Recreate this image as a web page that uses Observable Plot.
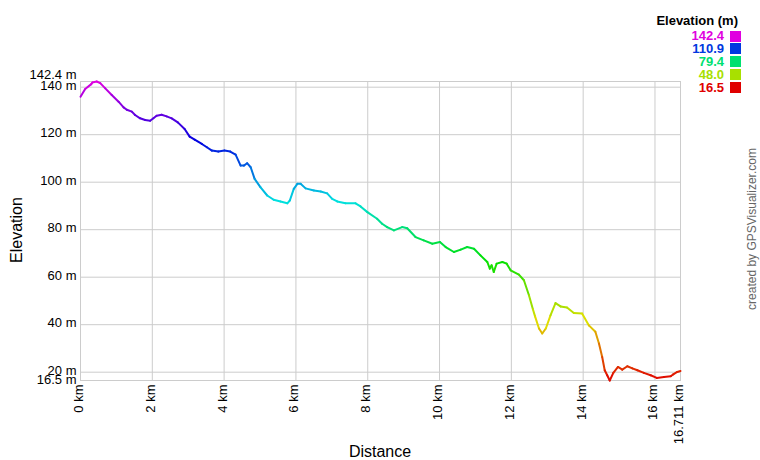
<!DOCTYPE html>
<html>
<head>
<meta charset="utf-8">
<script src="https://cdn.jsdelivr.net/npm/d3@7"></script>
<script src="https://cdn.jsdelivr.net/npm/@observablehq/plot@0.6"></script>
<style>
  body { margin: 0; background: #fff; }
  #wrap { position: relative; width: 760px; height: 460px; font-family: "Liberation Sans", Arial, sans-serif; }
  #wrap svg { position: absolute; left: 0; top: 0; }
  .abs { position: absolute; white-space: nowrap; }
</style>
</head>
<body>
<div id="wrap"></div>
<script>
// Distance along track (km)
const km = [0, 0.13, 0.30, 0.33, 0.45, 0.55, 0.69, 0.87, 1.06, 1.20, 1.29, 1.43, 1.52, 1.66, 1.80, 1.94,
  2.03, 2.12, 2.26, 2.40, 2.54, 2.71, 2.90, 3.04, 3.18, 3.38, 3.52, 3.66, 3.84, 4.01, 4.17, 4.32,
  4.46, 4.55, 4.64, 4.74, 4.85, 5.01, 5.20, 5.38, 5.57, 5.76, 5.83, 5.94, 6.04, 6.13, 6.27, 6.50,
  6.69, 6.87, 7.01, 7.15, 7.38, 7.66, 7.80, 7.99, 8.26, 8.40, 8.54, 8.73, 8.96, 9.10, 9.33, 9.56,
  9.80, 10.01, 10.17, 10.40, 10.59, 10.77, 10.96, 11.14, 11.33, 11.40, 11.45, 11.51, 11.59, 11.75,
  11.87, 11.98, 12.21, 12.35, 12.49, 12.60, 12.66, 12.77, 12.86, 12.96, 13.09, 13.23, 13.37, 13.55,
  13.74, 13.97, 14.16, 14.34, 14.44, 14.53, 14.60, 14.67, 14.74, 14.84, 14.97, 15.09, 15.23, 15.37,
  15.51, 15.69, 15.88, 16.05, 16.25, 16.44, 16.51, 16.62, 16.711];
// Elevation (m)
const elev = [136.0, 139.2, 141.3, 142.0, 142.4, 141.7, 139.5, 136.7, 133.9, 131.5, 130.5, 129.7, 128.3, 126.9, 126.2, 125.9,
  126.9, 128.0, 128.4, 127.7, 126.9, 125.2, 122.4, 119.2, 117.9, 116.1, 114.7, 113.3, 112.9, 113.3, 112.9, 111.6,
  107.0, 107.0, 108.0, 106.3, 101.4, 97.9, 94.4, 92.6, 91.9, 91.1, 92.3, 97.2, 99.3, 99.3, 97.4, 96.5,
  96.1, 95.3, 93.0, 91.9, 91.1, 91.1, 89.8, 87.4, 84.6, 82.5, 81.1, 79.7, 81.1, 80.6, 76.9, 75.5,
  74.1, 74.8, 72.7, 70.6, 71.6, 72.7, 72.0, 69.2, 66.4, 63.6, 65.0, 62.2, 65.7, 66.4,
  65.7, 62.9, 61.1, 58.7, 52.4, 46.5, 43.5, 38.4, 36.3, 38.4, 43.9, 49.1, 47.7, 47.2,
  44.9, 44.7, 39.7, 37.0, 32.1, 26.4, 20.8, 18.7, 16.5, 19.7, 22.2, 21.1, 22.5, 21.6,
  20.8, 19.7, 18.7, 17.6, 18.0, 18.3, 19.1, 20.1, 20.5];

const yTicks = [20, 40, 60, 80, 100, 120, 140];
const yExtremes = [16.5, 142.4];
const xTicks = [0, 2, 4, 6, 8, 10, 12, 14, 16, 16.711];
const legendValues = [142.4, 110.9, 79.4, 48.0, 16.5];

const eMin = 16.5, eMax = 142.4;
const hueColor = t => d3.hsl(300 * t, 1, 0.44).formatHex();
const colorOf = e => hueColor((e - eMin) / (eMax - eMin));

const pts = d3.zip(km, elev);
const segs = d3.pairs(pts).map(([a, b]) => ({x1: a[0], y1: a[1], x2: b[0], y2: b[1], e: (a[1] + b[1]) / 2}));

const font = "Liberation Sans, Arial, sans-serif";
const chart = Plot.plot({
  width: 760,
  height: 460,
  marginLeft: 80,
  marginRight: 80,
  marginTop: 81,
  marginBottom: 80,
  style: {fontFamily: font, fontSize: "13px", color: "#000", background: "#fff"},
  x: {domain: [0, 16.711], axis: null},
  y: {domain: [eMin, eMax], axis: null},
  color: {type: "linear", domain: [eMin, eMax], interpolate: hueColor},
  marks: [
    Plot.gridX(xTicks, {stroke: "#ccc", strokeOpacity: 1}),
    Plot.gridY(yTicks, {stroke: "#ccc", strokeOpacity: 1}),
    Plot.frame({stroke: "#ccc"}),
    Plot.link(segs, {x1: "x1", y1: "y1", x2: "x2", y2: "y2", stroke: "e", strokeWidth: 2, strokeLinecap: "round"}),
    Plot.text(yTicks, {y: d => d, text: d => `${d} m`, frameAnchor: "left", textAnchor: "end", dx: -4, dy: -1.5, fontSize: 13, fill: "#000"}),
    Plot.text([yExtremes[1]], {y: d => d, text: d => `${d} m`, frameAnchor: "left", textAnchor: "end", dx: -4, dy: -6.5, fontSize: 13, fill: "#000"}),
    Plot.text([yExtremes[0]], {y: d => d, text: d => `${d} m`, frameAnchor: "left", textAnchor: "end", dx: -4, dy: -1, fontSize: 13, fill: "#000"}),
    Plot.text(xTicks, {x: d => d, text: d => `${d} km`, frameAnchor: "bottom", rotate: -90, textAnchor: "end", dx: 2.5, dy: 4, fontSize: 13, fill: "#000"})
  ]
});

const wrap = document.getElementById("wrap");
wrap.appendChild(chart);

function addDiv(html, css) {
  const d = document.createElement("div");
  d.className = "abs";
  d.innerHTML = html;
  Object.assign(d.style, css);
  wrap.appendChild(d);
  return d;
}

// axis titles
addDiv("Elevation", {left: "17px", top: "230px", fontSize: "16px", transform: "translate(-50%,-50%) rotate(-90deg)"});
addDiv("Distance", {left: "380px", top: "452px", fontSize: "16px", transform: "translate(-50%,-50%)"});
// credit
addDiv("created by GPSVisualizer.com", {left: "752px", top: "229px", fontSize: "12px", color: "#666", transform: "translate(-50%,-50%) rotate(-90deg)"});
// legend
addDiv("Elevation (m)", {right: "22px", top: "13px", fontSize: "13px", fontWeight: "bold", color: "#000", lineHeight: "15px"});
legendValues.forEach((v, i) => {
  const top = 30.5 + i * 12.9;
  addDiv(v.toFixed(1), {right: "36px", top: (top - 0.5) + "px", fontSize: "13px", fontWeight: "bold", color: colorOf(v), lineHeight: "12px"});
  addDiv("", {left: "730px", top: top + "px", width: "11px", height: "11px", background: colorOf(v)});
});
</script>
</body>
</html>
